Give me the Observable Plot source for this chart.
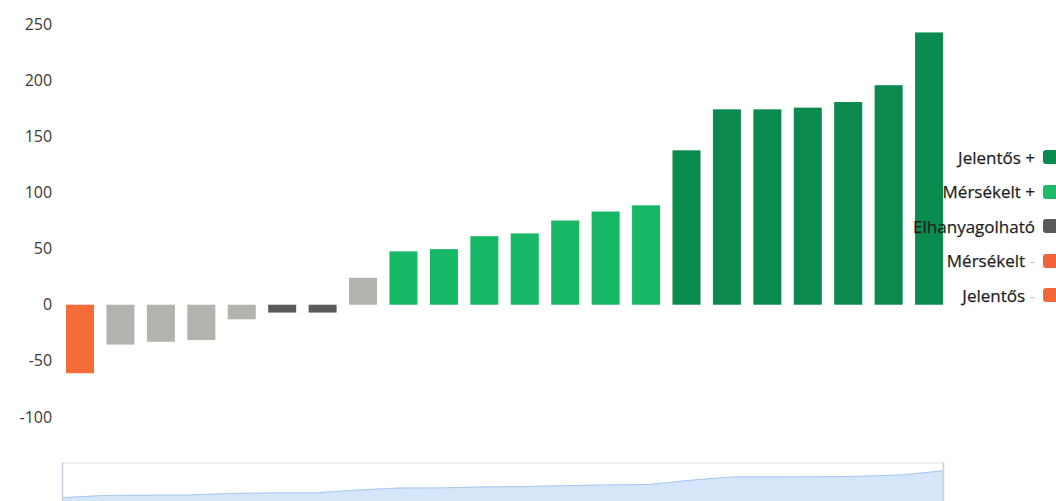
<!DOCTYPE html>
<html>
<head>
<meta charset="utf-8">
<script src="https://cdn.jsdelivr.net/npm/d3@7"></script>
<script src="https://cdn.jsdelivr.net/npm/@observablehq/plot@0.6"></script>
<style>
  html, body { margin: 0; padding: 0; background: #fff; overflow: hidden; }
  #wrap { position: relative; width: 1056px; height: 501px; overflow: hidden; font-family: "Open Sans", sans-serif; }
  #main { position: absolute; left: 0; top: 0; }
  #slider { position: absolute; left: 0; top: 462px; }
  #legend { position: absolute; left: 0; top: 0; width: 1056px; height: 501px; pointer-events: none; }
  .row { position: absolute; right: 0; height: 20px; display: flex; align-items: center; }
  .lab { font-size: 17px; color: #1e1e1e; margin-right: 8px; white-space: nowrap; -webkit-text-stroke: 0.25px #1e1e1e; }
  .sw { width: 18px; height: 14px; border-radius: 3px; margin-right: -5px; }
</style>
</head>
<body>
<div id="wrap">
  <div id="main"></div>
  <div id="slider"></div>
  <div id="legend"></div>
</div>
<script>
// ---- data ----
const items = ["1","2","3","4","5","6","7","8","9","10","11","12","13","14","15","16","17","18","19","20","21","22"];
const values = [-61, -35.5, -33, -31.5, -13, -7, -7, 24, 47.5, 49.5, 61, 63.5, 75, 83, 88.5, 137.5, 174, 174, 175.5, 180.5, 195.5, 242.5];
const impact = ["Jelentős -", "Elhanyagolható", "Elhanyagolható", "Elhanyagolható", "Elhanyagolható", "Elhanyagolható", "Elhanyagolható", "Elhanyagolható",
  "Mérsékelt +", "Mérsékelt +", "Mérsékelt +", "Mérsékelt +", "Mérsékelt +", "Mérsékelt +", "Mérsékelt +",
  "Jelentős +", "Jelentős +", "Jelentős +", "Jelentős +", "Jelentős +", "Jelentős +", "Jelentős +"];
const legendLabels = ["Jelentős +", "Mérsékelt +", "Elhanyagolható", "Mérsékelt -", "Jelentős -"];
const yTicks = [-100, -50, 0, 50, 100, 150, 200, 250];

// ---- styles ----
const barColors = ["#0b8a4f", "#17b865", "#b3b3ad", "#f2683b", "#f56c38"];
const swatchColors = ["#0b8a4f", "#1db868", "#5a5a5a", "#f0643c", "#f2673a"];

const data = items.map((id, i) => ({id, value: values[i], impact: impact[i], i}));

const main = Plot.plot({
  width: 1056,
  height: 440,
  marginTop: 24,
  marginBottom: 23,
  marginLeft: 53.6,
  marginRight: 100.5,
  style: {fontFamily: "Open Sans, sans-serif", fontSize: "16px", color: "#3a3a3a", background: "transparent"},
  x: {type: "band", domain: items, padding: 0.307, round: false, axis: null},
  y: {domain: [-100, 250], axis: null},
  color: {domain: legendLabels, range: barColors},
  marks: [
    Plot.axisY({ticks: yTicks, tickSize: 0, tickPadding: 2, tickFormat: d => String(d), label: null, fill: "#3a3a3a"}),
    Plot.barY(data.filter(d => !(d.impact === "Elhanyagolható" && Math.abs(d.value) < 10)), {x: "id", y: "value", fill: "impact"}),
    Plot.barY(data.filter(d => d.impact === "Elhanyagolható" && Math.abs(d.value) < 10), {x: "id", y: "value", fill: "#5b5b5b"})
  ]
});
document.getElementById("main").appendChild(main);

const slider = Plot.plot({
  width: 1056,
  height: 50,
  marginTop: 0.5,
  marginBottom: 0,
  marginLeft: 62,
  marginRight: 113,
  style: {background: "transparent"},
  x: {type: "linear", domain: [0, items.length - 1], axis: null},
  y: {domain: [-228, 331], axis: null},
  marks: [
    Plot.frame({stroke: "#dde2ea", fill: "#ffffff"}),
    Plot.areaY(data, {x: "i", y1: -228, y2: "value", fill: "#d6e6f9"}),
    Plot.lineY(data, {x: "i", y: "value", stroke: "#a9c8ef", strokeWidth: 1}),
    Plot.ruleX([0, items.length - 1], {stroke: "#c9cfd8", strokeWidth: 1.5})
  ]
});
document.getElementById("slider").appendChild(slider);

// ---- legend ----
const legend = document.getElementById("legend");
legendLabels.forEach((lab, i) => {
  const row = document.createElement("div");
  row.className = "row";
  row.style.top = (147 + 34.5 * i) + "px";
  const t = document.createElement("span");
  t.className = "lab";
  const m = lab.match(/^(.*) ([+-])$/);
  if (m) {
    t.appendChild(document.createTextNode(m[1] + " "));
    const s = document.createElement("span");
    s.textContent = m[2];
    if (m[2] === "-") { s.style.color = "#c8c8c8"; s.style.webkitTextStroke = "0"; }
    t.appendChild(s);
  } else {
    t.textContent = lab;
  }
  const sw = document.createElement("span");
  sw.className = "sw";
  sw.style.background = swatchColors[i];
  row.appendChild(t);
  row.appendChild(sw);
  legend.appendChild(row);
});
</script>
</body>
</html>
